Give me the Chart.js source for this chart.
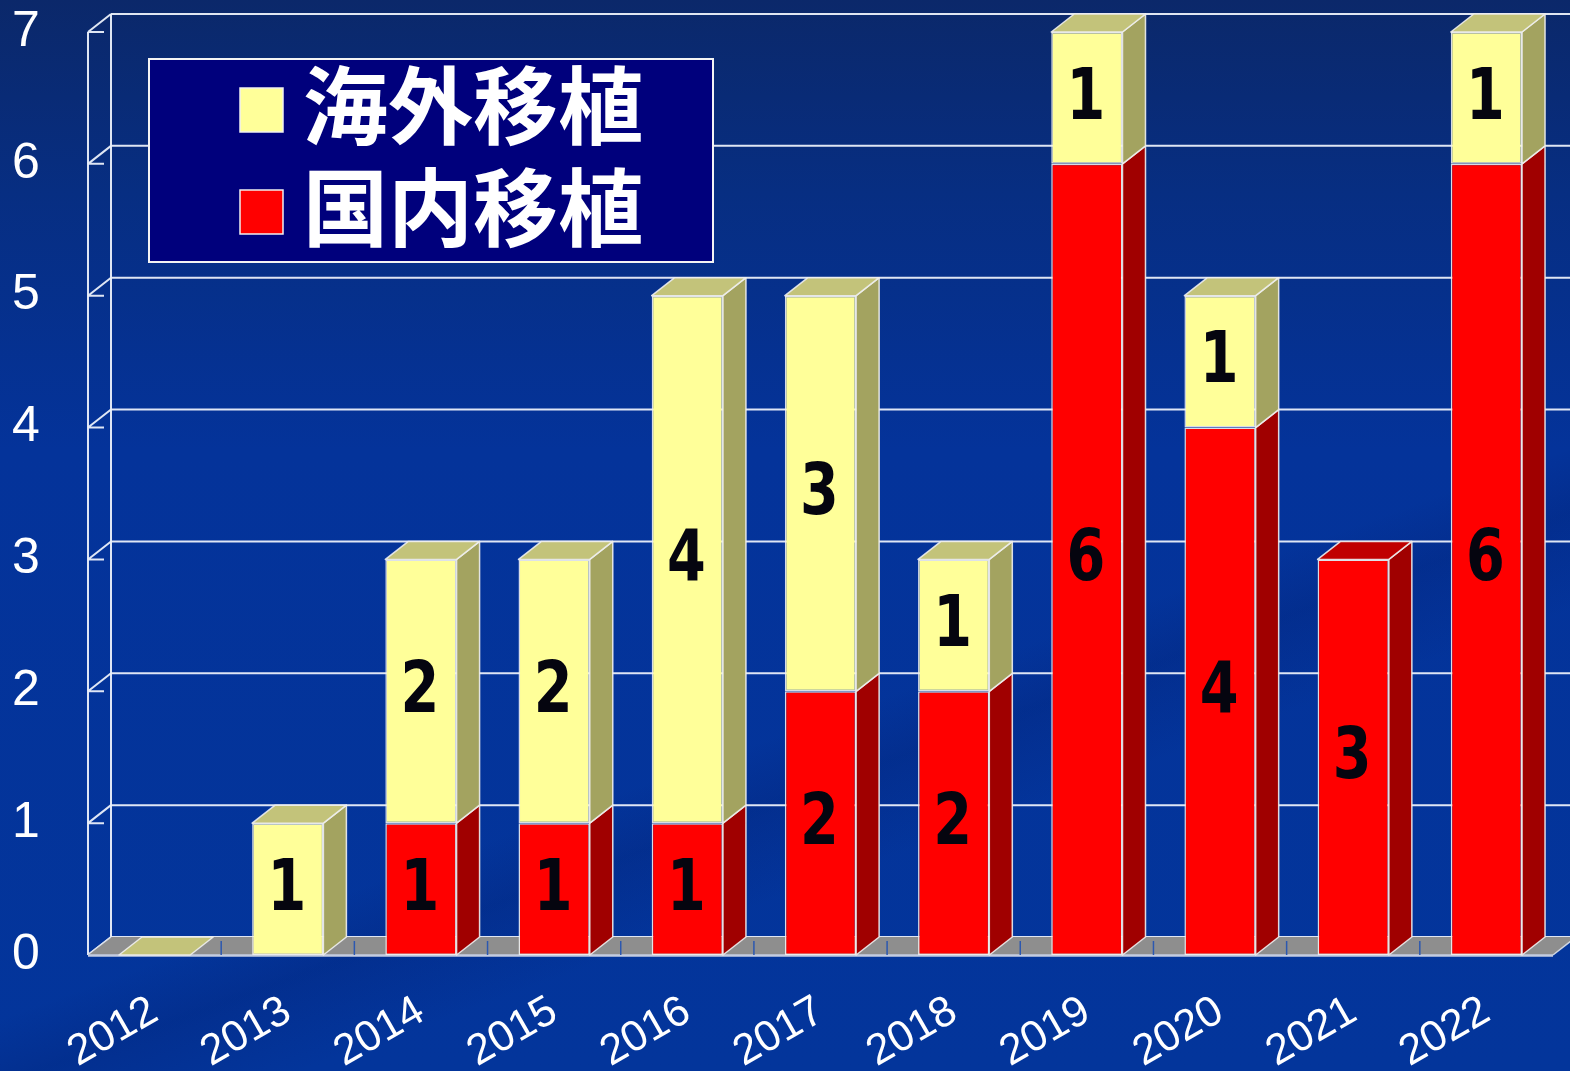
<!DOCTYPE html>
<html>
<head>
<meta charset="utf-8">
<script src="https://cdn.jsdelivr.net/npm/chart.js@4.4.1/dist/chart.umd.min.js"></script>
<style>
html,body{margin:0;padding:0;width:1570px;height:1071px;overflow:hidden;}
body{
  background:
    linear-gradient(160deg, rgba(0,0,0,0) 62%, rgba(0,20,90,0.18) 66%, rgba(0,0,0,0) 72%),
    linear-gradient(180deg,#0b286a 0%,#072e82 18%,#04339a 42%,#03359b 100%);
}
#wrap{position:absolute;left:0;top:0;width:1570px;height:1071px;}
</style>
</head>
<body>
<div id="wrap"><canvas id="c" width="1570" height="1071"></canvas></div>
<script>
// ---- data ----
const categories = ['2012','2013','2014','2015','2016','2017','2018','2019','2020','2021','2022'];
const domestic   = [0, 0, 1, 1, 1, 2, 2, 6, 4, 3, 6];   // 国内移植
const overseas   = [0, 1, 2, 2, 4, 3, 1, 1, 1, 0, 1];   // 海外移植
const yTicks     = [0, 1, 2, 3, 4, 5, 6, 7];
const seriesNames = ['国内移植', '海外移植'];

// ---- style ----
const DX = 23, DY = 18;
const faceColors = [
  {front:'#ff0000', side:'#a00000', top:'#c00000'},
  {front:'#ffff99', side:'#a3a360', top:'#c3c37a'}
];
const edge = 'rgba(240,240,240,0.9)';

const scene3d = {
  id: 'scene3d',
  beforeDatasetsDraw(chart) {
    const ctx = chart.ctx, ys = chart.scales.y, xs = chart.scales.x;
    const L = xs.left, R = xs.right;
    const y0 = ys.getPixelForValue(0);
    const yTop = ys.getPixelForValue(yTicks[yTicks.length - 1]);
    ctx.save();
    ctx.strokeStyle = 'rgba(235,240,250,0.95)';
    ctx.lineWidth = 2;
    yTicks.forEach(v => {
      const yf = ys.getPixelForValue(v);
      ctx.beginPath();
      ctx.moveTo(L + DX, yf - DY); ctx.lineTo(chart.width, yf - DY);
      ctx.moveTo(L, yf); ctx.lineTo(L + DX, yf - DY);
      ctx.moveTo(L, yf); ctx.lineTo(L + 16, yf);
      ctx.stroke();
    });
    ctx.beginPath();
    ctx.moveTo(L, yTop); ctx.lineTo(L, y0);
    ctx.moveTo(L + DX, yTop - DY); ctx.lineTo(L + DX, y0 - DY);
    ctx.stroke();
    // floor
    ctx.fillStyle = '#8e8e8e';
    ctx.beginPath();
    ctx.moveTo(L, y0); ctx.lineTo(R, y0); ctx.lineTo(R + DX, y0 - DY); ctx.lineTo(L + DX, y0 - DY);
    ctx.closePath(); ctx.fill();
    ctx.strokeStyle = 'rgba(220,225,235,0.9)';
    ctx.lineWidth = 1.5;
    ctx.beginPath();
    ctx.moveTo(L, y0 - 0.5); ctx.lineTo(L + DX, y0 - DY);
    ctx.moveTo(R, y0); ctx.lineTo(R + DX, y0 - DY);
    ctx.stroke();
    ctx.strokeStyle = '#c4cce0';
    ctx.lineWidth = 2.5;
    ctx.beginPath(); ctx.moveTo(L, y0 + 0.5); ctx.lineTo(R, y0 + 0.5); ctx.stroke();
    const cw = (R - L) / categories.length;
    ctx.strokeStyle = '#2c58b0';
    ctx.lineWidth = 1.5;
    for (let k = 1; k < categories.length; k++) {
      const x = L + k * cw;
      ctx.beginPath(); ctx.moveTo(x, y0); ctx.lineTo(x, y0 - 14); ctx.stroke();
    }
    ctx.restore();
  },
  afterDatasetsDraw(chart) {
    const ctx = chart.ctx;
    const metas = chart.data.datasets.map((d, i) => chart.getDatasetMeta(i));
    ctx.save();
    ctx.lineWidth = 1.5;
    ctx.strokeStyle = edge;
    ctx.lineJoin = 'round';
    for (let i = 0; i < categories.length; i++) {
      let topIdx = -1;
      chart.data.datasets.forEach((ds, d) => { if (ds.data[i] > 0) topIdx = d; });
      chart.data.datasets.forEach((ds, d) => {
        const el = metas[d].data[i];
        const p = el.getProps(['x', 'y', 'base', 'width'], true);
        const x0 = p.x - p.width / 2, x1 = p.x + p.width / 2;
        const yt = Math.min(p.y, p.base), yb = Math.max(p.y, p.base);
        const c = faceColors[d];
        if (ds.data[i] > 0) {
          ctx.fillStyle = c.side;
          ctx.beginPath();
          ctx.moveTo(x1, yt); ctx.lineTo(x1 + DX, yt - DY); ctx.lineTo(x1 + DX, yb - DY); ctx.lineTo(x1, yb);
          ctx.closePath(); ctx.fill(); ctx.stroke();
        }
        const isTop = (d === topIdx) || (topIdx === -1 && d === chart.data.datasets.length - 1);
        if (isTop) {
          ctx.fillStyle = c.top;
          ctx.beginPath();
          ctx.moveTo(x0, yt); ctx.lineTo(x0 + DX, yt - DY); ctx.lineTo(x1 + DX, yt - DY); ctx.lineTo(x1, yt);
          ctx.closePath(); ctx.fill(); ctx.stroke();
        }
      });
    }
    // value labels
    ctx.fillStyle = '#05050f';
    ctx.font = "bold 72px 'DejaVu Sans Condensed', 'Liberation Sans', sans-serif";
    ctx.textAlign = 'center';
    ctx.textBaseline = 'middle';
    chart.data.datasets.forEach((ds, d) => {
      metas[d].data.forEach((el, i) => {
        const v = ds.data[i];
        if (!v) return;
        const p = el.getProps(['x', 'y', 'base'], true);
        ctx.save();
        ctx.translate(p.x - 1, (p.y + p.base) / 2 + 2);
        ctx.scale(0.86, 1);
        ctx.fillText(String(v), 0, 0);
        ctx.restore();
      });
    });
    ctx.restore();
  },
  afterDraw(chart) {
    const ctx = chart.ctx;
    ctx.save();
    ctx.fillStyle = '#00007c';
    ctx.fillRect(149, 59, 564, 203);
    ctx.strokeStyle = '#f4f4f4';
    ctx.lineWidth = 2;
    ctx.strokeRect(149, 59, 564, 203);
    const items = chart.data.datasets.map((ds, i) => ({label: ds.label, color: ds.backgroundColor})).reverse();
    const rowY = [110, 212];
    ctx.font = "bold 85px 'Noto Sans CJK JP', sans-serif";
    ctx.textBaseline = 'middle';
    ctx.textAlign = 'left';
    items.forEach((it, k) => {
      const cy = rowY[k];
      ctx.fillStyle = it.color;
      ctx.fillRect(240, cy - 22, 43, 44);
      ctx.strokeStyle = '#f0f0f0';
      ctx.lineWidth = 1.5;
      ctx.strokeRect(240, cy - 22, 43, 44);
      ctx.fillStyle = '#ffffff';
      ctx.fillText(it.label, 303, cy - 4);
    });
    ctx.restore();
  }
};

new Chart(document.getElementById('c'), {
  type: 'bar',
  data: {
    labels: categories,
    datasets: [
      {label: seriesNames[0], data: domestic, backgroundColor: faceColors[0].front,
       borderColor: edge, borderWidth: 1.5, borderSkipped: false},
      {label: seriesNames[1], data: overseas, backgroundColor: faceColors[1].front,
       borderColor: edge, borderWidth: 1.5, borderSkipped: false}
    ]
  },
  options: {
    responsive: false,
    animation: false,
    devicePixelRatio: 1,
    layout: {autoPadding: false, padding: {left: 12, top: 32, right: 17, bottom: 0}},
    datasets: {bar: {categoryPercentage: 1, barPercentage: 0.535}},
    plugins: {legend: {display: false}, tooltip: {enabled: false}},
    scales: {
      x: {
        stacked: true,
        grid: {display: false},
        border: {display: false},
        ticks: {color: '#ffffff', font: {family: "'Liberation Sans', sans-serif", size: 43},
                minRotation: 30, maxRotation: 30, padding: 23, autoSkip: false},
        afterFit(s) { s.height = 116; }
      },
      y: {
        stacked: true,
        min: 0, max: 7,
        grid: {display: false, drawTicks: false},
        border: {display: false},
        ticks: {stepSize: 1, color: '#ffffff', padding: 0, crossAlign: 'far',
                font: {family: "'Liberation Sans', sans-serif", size: 50}},
        afterFit(s) { s.width = 76; }
      }
    }
  },
  plugins: [scene3d]
});
</script>
</body>
</html>
